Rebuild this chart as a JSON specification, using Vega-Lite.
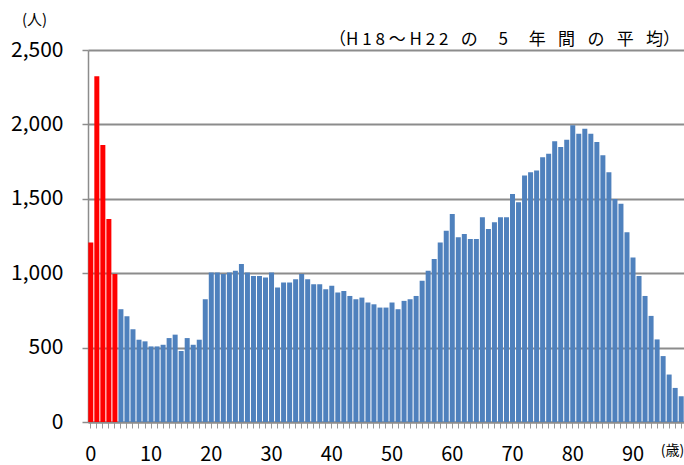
{
  "$schema": "https://vega.github.io/schema/vega-lite/v6.json",
  "width": 596,
  "height": 372,
  "autosize": {"type": "none"},
  "padding": {"left": 88, "top": 50, "right": 0, "bottom": 43},
  "background": "white",
  "title": {
    "text": "（H 1 8 ～ H 2 2 \u2002の\u2003 5 \u2003年\u2002 間\u2002 の\u2002 平\u2002 均）",
    "anchor": "end",
    "orient": "top",
    "offset": -37,
    "dx": -4,
    "font": "Noto Sans CJK JP",
    "fontSize": 17,
    "fontWeight": "normal",
    "color": "#000000"
  },
  "config": {
    "view": {"stroke": null},
    "axis": {"labelFont": "Noto Sans CJK JP", "titleFont": "Noto Sans CJK JP", "labelColor": "#000000", "titleColor": "#000000"}
  },
  "data": {
    "values": [
      {"age": 0, "count": 1207}, {"age": 1, "count": 2324}, {"age": 2, "count": 1861}, {"age": 3, "count": 1365}, {"age": 4, "count": 994},
      {"age": 5, "count": 758}, {"age": 6, "count": 710}, {"age": 7, "count": 623}, {"age": 8, "count": 553}, {"age": 9, "count": 542},
      {"age": 10, "count": 508}, {"age": 11, "count": 508}, {"age": 12, "count": 519}, {"age": 13, "count": 564}, {"age": 14, "count": 587},
      {"age": 15, "count": 477}, {"age": 16, "count": 564}, {"age": 17, "count": 519}, {"age": 18, "count": 553}, {"age": 19, "count": 825},
      {"age": 20, "count": 1005}, {"age": 21, "count": 1005}, {"age": 22, "count": 994}, {"age": 23, "count": 1005}, {"age": 24, "count": 1016},
      {"age": 25, "count": 1061}, {"age": 26, "count": 1005}, {"age": 27, "count": 982}, {"age": 28, "count": 982}, {"age": 29, "count": 971},
      {"age": 30, "count": 1005}, {"age": 31, "count": 904}, {"age": 32, "count": 937}, {"age": 33, "count": 937}, {"age": 34, "count": 960},
      {"age": 35, "count": 994}, {"age": 36, "count": 960}, {"age": 37, "count": 926}, {"age": 38, "count": 926}, {"age": 39, "count": 892},
      {"age": 40, "count": 915}, {"age": 41, "count": 870}, {"age": 42, "count": 881}, {"age": 43, "count": 847}, {"age": 44, "count": 825},
      {"age": 45, "count": 836}, {"age": 46, "count": 803}, {"age": 47, "count": 791}, {"age": 48, "count": 769}, {"age": 49, "count": 769},
      {"age": 50, "count": 803}, {"age": 51, "count": 758}, {"age": 52, "count": 814}, {"age": 53, "count": 825}, {"age": 54, "count": 847},
      {"age": 55, "count": 949}, {"age": 56, "count": 1016}, {"age": 57, "count": 1095}, {"age": 58, "count": 1207}, {"age": 59, "count": 1286},
      {"age": 60, "count": 1398}, {"age": 61, "count": 1241}, {"age": 62, "count": 1263}, {"age": 63, "count": 1230}, {"age": 64, "count": 1230},
      {"age": 65, "count": 1376}, {"age": 66, "count": 1297}, {"age": 67, "count": 1342}, {"age": 68, "count": 1376}, {"age": 69, "count": 1376},
      {"age": 70, "count": 1533}, {"age": 71, "count": 1477}, {"age": 72, "count": 1657}, {"age": 73, "count": 1679}, {"age": 74, "count": 1690},
      {"age": 75, "count": 1780}, {"age": 76, "count": 1803}, {"age": 77, "count": 1886}, {"age": 78, "count": 1848}, {"age": 79, "count": 1897},
      {"age": 80, "count": 1994}, {"age": 81, "count": 1938}, {"age": 82, "count": 1971}, {"age": 83, "count": 1938}, {"age": 84, "count": 1882},
      {"age": 85, "count": 1792}, {"age": 86, "count": 1679}, {"age": 87, "count": 1499}, {"age": 88, "count": 1466}, {"age": 89, "count": 1275},
      {"age": 90, "count": 1106}, {"age": 91, "count": 982}, {"age": 92, "count": 847}, {"age": 93, "count": 713}, {"age": 94, "count": 555},
      {"age": 95, "count": 443}, {"age": 96, "count": 319}, {"age": 97, "count": 229}, {"age": 98, "count": 173}
    ]
  },
  "mark": {"type": "bar"},
  "encoding": {
    "x": {
      "field": "age",
      "type": "ordinal",
      "sort": "ascending",
      "scale": {"paddingInner": 0.17, "paddingOuter": 0.05},
      "axis": {
        "labelExpr": "datum.value % 10 === 0 ? datum.label : ''",
        "labelAngle": 0,
        "labelFontSize": 20,
        "labelPadding": 16,
        "labelOverlap": false,
        "tickSize": 6,
        "tickColor": "#999999",
        "tickWidth": 1,
        "domainColor": "#8c8c8c",
        "domainWidth": 2,
        "grid": false,
        "title": "(歳)",
        "titleFontSize": 14,
        "titleFontWeight": "normal",
        "titleAngle": 0,
        "titleX": 584,
        "titleY": 28,
        "titleAlign": "center",
        "titleBaseline": "middle"
      }
    },
    "y": {
      "field": "count",
      "type": "quantitative",
      "scale": {"domain": [0, 2500], "nice": false},
      "axis": {
        "values": [0, 500, 1000, 1500, 2000, 2500],
        "format": ",d",
        "labelFontSize": 21,
        "labelPadding": 19,
        "tickSize": 6,
        "tickColor": "#8c8c8c",
        "tickWidth": 1.5,
        "domainColor": "#8c8c8c",
        "domainWidth": 1.5,
        "gridColor": "#8c8c8c",
        "gridWidth": 2,
        "title": "(人)",
        "titleFontSize": 15,
        "titleFontWeight": "normal",
        "titleAngle": 0,
        "titleX": -54,
        "titleY": -31,
        "titleAlign": "center",
        "titleBaseline": "middle"
      }
    },
    "color": {
      "condition": {"test": "datum.age < 5", "value": "#FF0000"},
      "value": "#4F81BD"
    }
  }
}
